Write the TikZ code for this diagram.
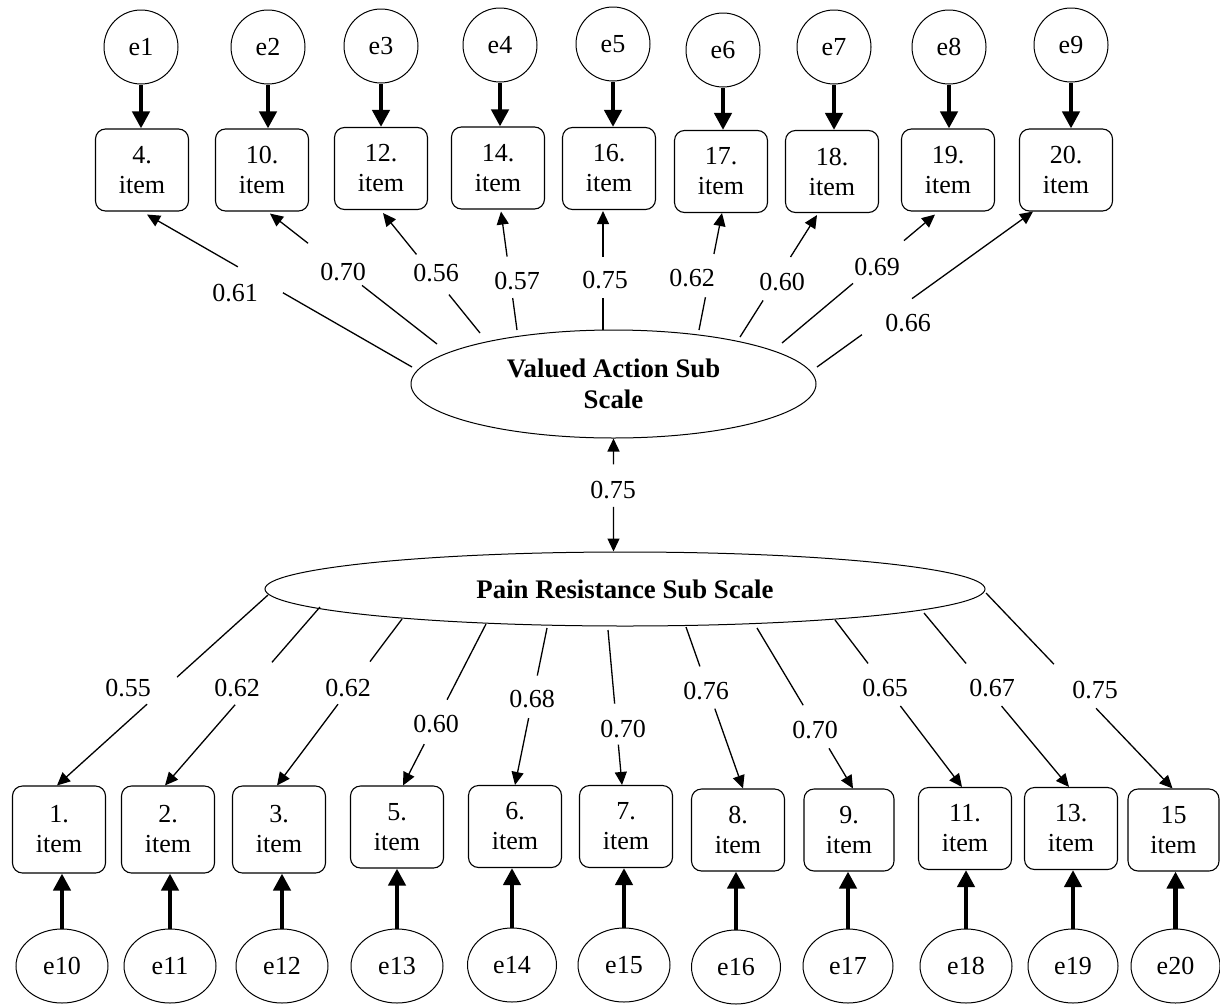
\documentclass[tikz,border=0pt]{standalone}
\usepackage{fontspec}
\setmainfont{Liberation Serif}
\usetikzlibrary{arrows.meta,shapes.geometric,calc}
\newcommand\gapload[6]{% #1 start, #2 tip, #3 t1, #4 t2, #5 label name, #6 label pos+text
  \draw[loadline] (#1) -- ($(#1)!#3!(#2)$);
  \draw[loadarrow] ($(#1)!#4!(#2)$) -- (#2);
  \node[lbl] (#5) at #6;}
\begin{document}
\begin{tikzpicture}[x=1pt,y=-1pt,
  every node/.style={font=\fontsize{26}{30}\selectfont},
  err/.style={circle,draw,line width=1pt,minimum size=74pt,inner sep=0pt},
  errb/.style={ellipse,draw,line width=1pt,minimum width=92pt,minimum height=74pt,inner sep=0pt},
  itembox/.style={draw,line width=1.1pt,rounded corners=10pt,minimum width=93pt,minimum height=82pt,align=center,inner sep=0pt},
  latent/.style={ellipse,draw,line width=1pt,inner sep=0pt,align=center,font=\fontsize{26.8}{31}\selectfont\bfseries},
  errarrow/.style={line width=4.5pt,-{Triangle[length=17pt,width=17pt]}},
  loadline/.style={line width=1.3pt},
  loadarrow/.style={line width=1.3pt,-{Triangle[length=13pt,width=12pt]}},
  lbl/.style={inner sep=1pt}
]
\useasboundingbox (0,0) rectangle (1220,1004);

% ---------- top error terms ----------
\node[err] (e1) at (141,47) {e1};
\node[err] (e2) at (268,47) {e2};
\node[err] (e3) at (381,46) {e3};
\node[err] (e4) at (500,45) {e4};
\node[err] (e5) at (613,44) {e5};
\node[err] (e6) at (723,50) {e6};
\node[err] (e7) at (834,47) {e7};
\node[err] (e8) at (949,47) {e8};
\node[err] (e9) at (1071,45) {e9};

% ---------- top items ----------
\node[itembox] (b4)  at (142,170)   {4.\\item};
\node[itembox] (b10) at (262,170)   {10.\\item};
\node[itembox] (b12) at (381,168.5) {12.\\item};
\node[itembox] (b14) at (498,168)   {14.\\item};
\node[itembox] (b16) at (609,168.5) {16.\\item};
\node[itembox] (b17) at (721,171.5) {17.\\item};
\node[itembox] (b18) at (832,171.5) {18.\\item};
\node[itembox] (b19) at (948,170)   {19.\\item};
\node[itembox] (b20) at (1066,170)  {20.\\item};

\foreach \e/\b in {e1/b4,e2/b10,e3/b12,e4/b14,e5/b16,e6/b17,e7/b18,e8/b19,e9/b20}
  \draw[errarrow] (\e.south) -- (\e.south |- \b.north);

% ---------- latent variables ----------
\node[latent,minimum width=405pt,minimum height=108pt] (va) at (613.5,384) {Valued Action Sub\\Scale};
\node[latent,minimum width=720pt,minimum height=74pt] (pr) at (625,589) {Pain Resistance Sub Scale};

% covariance
\coordinate (prtop) at (va.south |- pr.north);
\draw[loadarrow] ($(va.south)!0.23!(prtop)$) -- (va.south);
\draw[loadarrow] ($(va.south)!0.605!(prtop)$) -- (prtop);
\node[lbl] (lcov) at (613,490) {0.75};

% ---------- top loadings ----------
\coordinate (s1) at (412,367);
\coordinate (s2) at (437,344);
\coordinate (s3) at (480,333);
\coordinate (s4) at (517,330);
\coordinate (s5) at (603,330);
\coordinate (s6) at (699,330);
\coordinate (s7) at (740,337);
\coordinate (s8) at (782,343);
\coordinate (s9) at (817,367);
\coordinate (t1) at ([xshift=5pt,yshift=-3pt]b4.south);
\coordinate (t2) at ([xshift=8pt,yshift=-2pt]b10.south);
\coordinate (t3) at ([xshift=2pt,yshift=-3pt]b12.south);
\coordinate (t4) at ([xshift=3pt,yshift=-2pt]b14.south);
\coordinate (t5) at ([xshift=-6pt,yshift=-1pt]b16.south);
\coordinate (t6) at ([xshift=1pt]b17.south);
\coordinate (t7) at ([xshift=-15pt,yshift=-2pt]b18.south);
\coordinate (t8) at ([xshift=-13pt,yshift=-3pt]b19.south);
\coordinate (t9) at ([xshift=-33pt]b20.south);

\gapload{s1}{t1}{0.487}{0.657}{la1}{(235,293) {0.61}}
\gapload{s2}{t2}{0.449}{0.772}{la2}{(343,272) {0.70}}
\gapload{s3}{t3}{0.32}{0.655}{la3}{(436,273) {0.56}}
\gapload{s4}{t4}{0.27}{0.62}{la4}{(517,281) {0.57}}
\gapload{s5}{t5}{0.267}{0.617}{la5}{(605,280) {0.75}}
\gapload{s6}{t6}{0.28}{0.65}{la6}{(692,278) {0.62}}
\gapload{s7}{t7}{0.30}{0.656}{la7}{(782,282) {0.60}}
\gapload{s8}{t8}{0.464}{0.797}{la8}{(877,267) {0.69}}
\gapload{s9}{t9}{0.208}{0.44}{la9}{(908,323) {0.66}}

% ---------- bottom items ----------
\node[itembox,minimum height=87pt] (b1) at (59,829.5) {1.\\item};
\node[itembox,minimum height=87pt] (b2) at (168,829.5) {2.\\item};
\node[itembox,minimum height=87pt] (b3) at (279,829.5) {3.\\item};
\node[itembox] (b5)  at (397,827)   {5.\\item};
\node[itembox] (b6)  at (515,826.5) {6.\\item};
\node[itembox] (b7)  at (626,826.5) {7.\\item};
\node[itembox] (b8)  at (738,830)   {8.\\item};
\node[itembox,minimum width=90pt] (b9)  at (849,830)   {9.\\item};
\node[itembox] (b11) at (965,828.5) {11.\\item};
\node[itembox] (b13) at (1071,828.5) {13.\\item};
\node[itembox,minimum width=91pt] (b15) at (1173.5,830) {15\\item};

% ---------- bottom error terms ----------
\node[errb] (e10) at (62,966) {e10};
\node[errb] (e11) at (170,966) {e11};
\node[errb] (e12) at (282,966) {e12};
\node[errb] (e13) at (397,966) {e13};
\node[errb,minimum width=89pt] (e14) at (512,965) {e14};
\node[errb] (e15) at (624,965) {e15};
\node[errb,minimum width=89pt] (e16) at (736,967) {e16};
\node[errb,minimum width=90pt] (e17) at (848,966) {e17};
\node[errb] (e18) at (966,966) {e18};
\node[errb,minimum width=90pt] (e19) at (1073,966) {e19};
\node[errb,minimum width=89pt] (e20) at (1175.5,966) {e20};

\foreach \e/\b in {e10/b1,e11/b2,e12/b3,e13/b5,e14/b6,e15/b7,e16/b8,e17/b9,e18/b11,e19/b13,e20/b15}
  \draw[errarrow] (\e.north) -- (\e.north |- \b.south);

% ---------- bottom loadings ----------
\coordinate (u1) at (268,595);
\coordinate (u2) at (320,607);
\coordinate (u3) at (402,619);
\coordinate (u4) at (486,624);
\coordinate (u5) at (547,628);
\coordinate (u6) at (608,630);
\coordinate (u7) at (686,627);
\coordinate (u8) at (757,628);
\coordinate (u9) at (835,620);
\coordinate (u10) at (924,613);
\coordinate (u11) at (986,593);
\coordinate (v1) at ([xshift=-2pt]b1.north);
\coordinate (v2) at ([xshift=-3pt]b2.north);
\coordinate (v3) at ([xshift=-2pt]b3.north);
\coordinate (v4) at ([xshift=6pt]b5.north);
\coordinate (v5) at ([xshift=0pt]b6.north);
\coordinate (v6) at ([xshift=-4pt]b7.north);
\coordinate (v7) at ([xshift=5pt]b8.north);
\coordinate (v8) at ([xshift=4pt]b9.north);
\coordinate (v9) at ([xshift=-3pt]b11.north);
\coordinate (v10) at ([xshift=-2pt]b13.north);
\coordinate (v11) at ([xshift=-1pt]b15.north);

\gapload{u1}{v1}{0.431}{0.573}{lb1}{(128,688) {0.55}}
\gapload{u2}{v2}{0.31}{0.548}{lb2}{(237,688) {0.62}}
\gapload{u3}{v3}{0.256}{0.512}{lb3}{(348,688) {0.62}}
\gapload{u4}{v4}{0.469}{0.744}{lb4}{(436,724) {0.60}}
\gapload{u5}{v5}{0.303}{0.574}{lb5}{(532,699) {0.68}}
\gapload{u6}{v6}{0.475}{0.74}{lb6}{(623,729) {0.70}}
\gapload{u7}{v7}{0.244}{0.506}{lb7}{(706,691) {0.76}}
\gapload{u8}{v8}{0.481}{0.75}{lb8}{(815,730) {0.70}}
\gapload{u9}{v9}{0.26}{0.515}{lb9}{(885,688) {0.65}}
\gapload{u10}{v10}{0.29}{0.535}{lb10}{(992,688) {0.67}}
\gapload{u11}{v11}{0.364}{0.59}{lb11}{(1095,690) {0.75}}
\end{tikzpicture}
\end{document}
